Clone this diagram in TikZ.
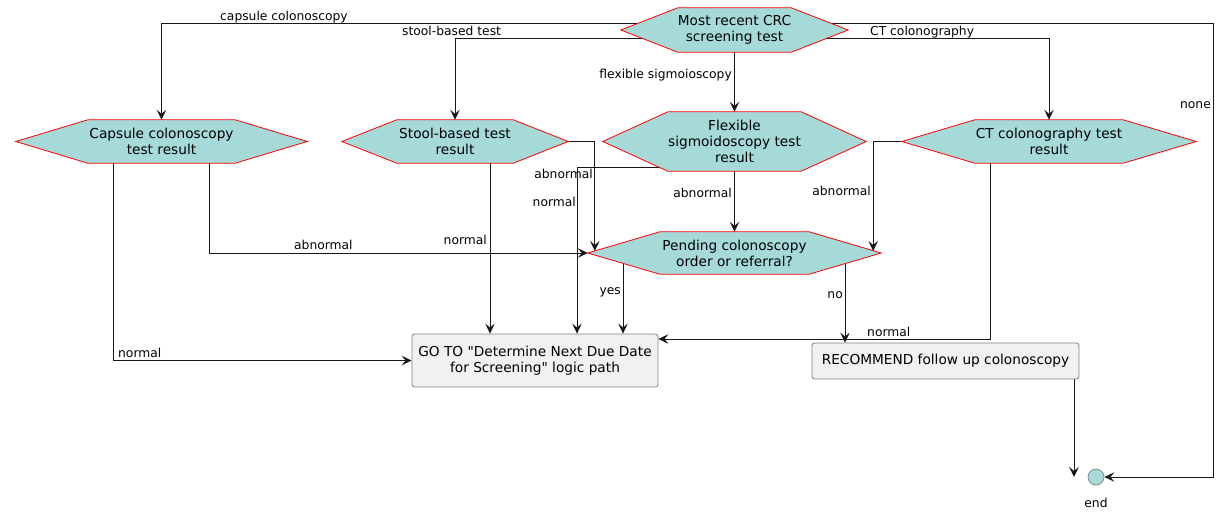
\documentclass[tikz,border=0pt]{standalone}
\usepackage{fontspec}
\setmainfont{DejaVu Sans}[Ligatures=TeXOff]
\usetikzlibrary{arrows.meta,calc}
\definecolor{hexfill}{HTML}{A5DAD8}
\definecolor{hexline}{HTML}{FF0000}
\definecolor{boxfill}{HTML}{F1F1F1}
\definecolor{boxline}{HTML}{808080}
\definecolor{linec}{HTML}{181818}
\pgfdeclarelayer{bg}
\pgfdeclarelayer{edges}
\pgfdeclarelayer{hexl}
\pgfsetlayers{bg,edges,hexl,main}
\tikzset{
  hextext/.style={align=center, inner sep=0pt, text=black, font=\fontsize{13.7}{16}\selectfont},
  hexshape/.style={fill=hexfill, draw=hexline, line width=0.8pt},
  box/.style={draw=boxline, fill=boxfill, rounded corners=2.5pt, line width=0.8pt, align=center, inner sep=0pt, font=\fontsize{13.7}{16}\selectfont},
  endnode/.style={circle, draw=boxline, fill=hexfill, minimum size=16pt, inner sep=0pt, line width=0.7pt},
  arr/.style={draw=linec, line width=1pt, -{Stealth[length=10pt,width=9.5pt,inset=4pt]}},
  lbl/.style={inner sep=0pt, text=black, font=\fontsize{12.3}{14}\selectfont},
}
\newcommand\hexnode[7]{%
  \node[hextext, minimum width=2*#4pt, minimum height=2*#5pt] (#1) at (#2,#3) {#7};
  \begin{pgfonlayer}{hexl}
    \path[hexshape] (#1.west) -- ([xshift=#6pt]#1.north west) -- ([xshift=-#6pt]#1.north east) -- (#1.east) -- ([xshift=-#6pt]#1.south east) -- ([xshift=#6pt]#1.south west) -- cycle;
  \end{pgfonlayer}
}
\begin{document}
\begin{tikzpicture}[x=1pt,y=-1pt]
\begin{pgfonlayer}{bg}
\fill[white] (0,0) rectangle (1219,514);
\end{pgfonlayer}
\useasboundingbox (0,0) rectangle (1219,514);

\hexnode{top}{734.5}{30}{113.5}{22}{57}{Most recent CRC\\screening test}
\hexnode{cap}{161.5}{141.5}{145.5}{21.5}{72}{Capsule colonoscopy\\test result}
\hexnode{stool}{455}{141.5}{113}{21.5}{55}{Stool-based test\\result}
\hexnode{flex}{734.5}{141.5}{131.5}{29.5}{65}{Flexible\\sigmoidoscopy test\\result}
\hexnode{pend}{734.5}{253}{146.5}{21}{72}{Pending colonoscopy\\order or referral?}
\hexnode{ct}{1049}{141.5}{147}{21.5}{73}{CT colonography test\\result}

\node[box, minimum width=246pt, minimum height=53pt] (goto) at (535,360.5) {GO TO "Determine Next Due Date\\for Screening" logic path};
\node[box, minimum width=267pt, minimum height=36pt] (rec) at (945.5,361) {RECOMMEND follow up colonoscopy};
\node[endnode] (endc) at (1096,477) {};
\node[lbl, anchor=base] (endl) at (1096,507) {end};
\coordinate (nonec) at (1213,100);

\begin{pgfonlayer}{edges}
\draw[arr] ([yshift=7pt]top.center) -| (cap.north);
\draw[arr] ([yshift=-8pt]top.center) -| (stool.north);
\draw[arr] ([yshift=7pt]top.center) -| (nonec) |- (endc.east);
\draw[arr] ([yshift=-8pt]top.center) -| (ct.north);
\draw[arr] (top.south) -- (flex.north);
\draw[arr] ([xshift=-48.5pt]cap.south) |- (goto.west);
\draw[arr] ([xshift=47.5pt]cap.south) |- (pend.west);
\draw[arr] (stool.east) -| ([xshift=7pt,yshift=2pt]pend.west);
\draw[arr] ([xshift=35pt]stool.south) coordinate (s1) -- (s1 |- goto.north);
\draw[arr] ([yshift=3.5pt]flex.south) -| ([xshift=42pt]goto.north);
\draw[arr] (flex.south) -- (pend.north);
\draw[arr] (ct.west) -| ([xshift=-8pt,yshift=2pt]pend.east);
\draw[arr] ([xshift=-59pt]ct.south) |- ([yshift=21.5pt]goto.east);
\draw[arr] ([xshift=-111.5pt]pend.center) -- ([xshift=88pt]goto.north);
\draw[arr] ([xshift=110.5pt]pend.center) -- ([xshift=-100.5pt]rec.north);
\draw[arr] ([xshift=128.5pt]rec.south) coordinate (r1) -- (r1 |- endc.center);
\end{pgfonlayer}

\node[lbl, anchor=base west] (l1) at (220,20) {capsule colonoscopy};
\node[lbl, anchor=base west] (l2) at (402,35) {stool-based test};
\node[lbl, anchor=base west] (l3) at (870,35) {CT colonography};
\node[lbl, anchor=base east] (l4) at (1211,108) {none};
\node[lbl, anchor=base east] (l5) at (732,78) {flexible sigmoioscopy};
\node[lbl, anchor=base west] (l6) at (294,249) {abnormal};
\node[lbl, anchor=base east] (l7) at (487,244) {normal};
\node[lbl, anchor=base east] (l8) at (871,195) {abnormal};
\node[lbl, anchor=base east] (l9) at (843,298) {no};
\node[lbl, anchor=base west] (l10) at (867,336) {normal};
\node[lbl, anchor=base east] (l11) at (732,197) {abnormal};
\node[lbl, anchor=base east] (l12) at (621,294) {yes};
\node[lbl, anchor=base east] (l13) at (593,178) {abnormal};
\node[lbl, anchor=base east] (l14) at (576,206) {normal};
\node[lbl, anchor=base west] (l15) at (118,357) {normal};
\end{tikzpicture}
\end{document}
